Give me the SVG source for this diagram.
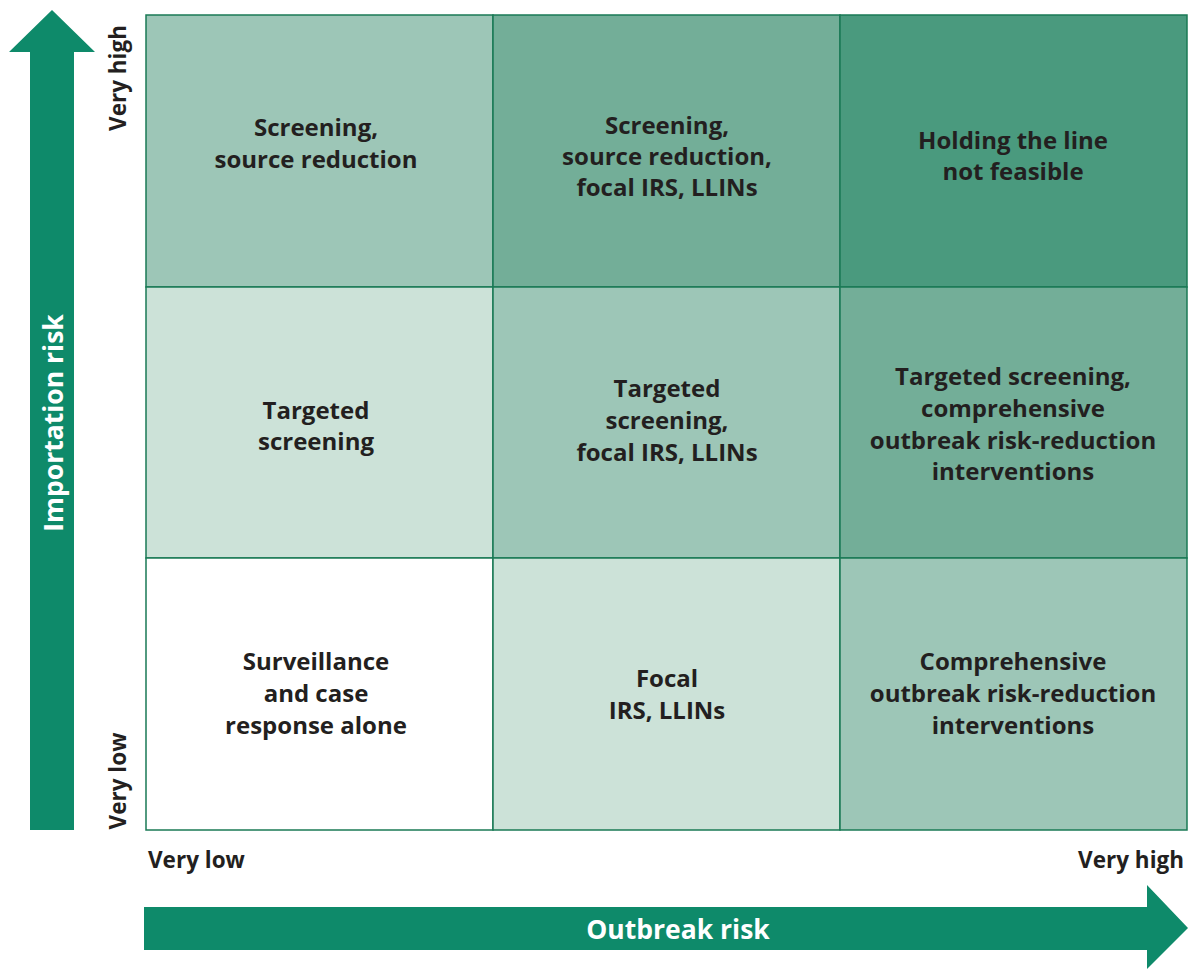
<svg xmlns="http://www.w3.org/2000/svg" width="1188" height="969" viewBox="0 0 1188 969">
<style>
.c1{fill:#ffffff}
.c2{fill:#cce2d8}
.c3{fill:#9dc6b7}
.c4{fill:#73ae98}
.c5{fill:#4a9a7e}
.cell{stroke:#1a7a55;stroke-width:1.5}
.t{font-family:"Open Sans","Noto Sans","Liberation Sans",sans-serif;font-weight:700;font-size:24px;fill:#231f20;text-anchor:middle}
.ax{font-family:"Open Sans","Noto Sans","Liberation Sans",sans-serif;font-weight:700;font-size:22.5px;fill:#231f20}
.arr{fill:#0e8a6a}
.w{font-family:"Open Sans","Noto Sans","Liberation Sans",sans-serif;font-weight:700;font-size:26.5px;fill:#ffffff;text-anchor:middle}
</style>
<rect width="1188" height="969" fill="#ffffff"/>
<g id="connectors">
<polygon id="y-arrow" class="arr" points="30,830 74,830 74,52 95,52 52,10 9,52 30,52"/>
<polygon id="x-arrow" class="arr" points="144,907 1147,907 1147,885 1188,928 1147,969 1147,950 144,950"/>
</g>
<g id="axis-labels">
<text class="w" transform="translate(63,423) rotate(-90)">Importation risk</text>
<text class="w" x="678" y="939">Outbreak risk</text>
<text class="ax" text-anchor="middle" transform="translate(126,78) rotate(-90)">Very high</text>
<text class="ax" text-anchor="middle" transform="translate(126,781) rotate(-90)">Very low</text>
<text class="ax" x="148" y="868">Very low</text>
<text class="ax" x="1184" y="868" text-anchor="end">Very high</text>
</g>
<g id="cell-r1c1"><rect class="cell c3" x="146" y="15" width="347" height="272"/>
<text class="t"><tspan x="316" y="136">Screening,</tspan><tspan x="316" y="168">source reduction</tspan></text></g>
<g id="cell-r1c2"><rect class="cell c4" x="493" y="15" width="347" height="272"/>
<text class="t"><tspan x="667" y="134">Screening,</tspan><tspan x="667" y="165">source reduction,</tspan><tspan x="667" y="196">focal IRS, LLINs</tspan></text></g>
<g id="cell-r1c3"><rect class="cell c5" x="840" y="15" width="347" height="272"/>
<text class="t"><tspan x="1013" y="149">Holding the line</tspan><tspan x="1013" y="180">not feasible</tspan></text></g>
<g id="cell-r2c1"><rect class="cell c2" x="146" y="287" width="347" height="271"/>
<text class="t"><tspan x="316" y="419">Targeted</tspan><tspan x="316" y="450">screening</tspan></text></g>
<g id="cell-r2c2"><rect class="cell c3" x="493" y="287" width="347" height="271"/>
<text class="t"><tspan x="667" y="397">Targeted</tspan><tspan x="667" y="429">screening,</tspan><tspan x="667" y="461">focal IRS, LLINs</tspan></text></g>
<g id="cell-r2c3"><rect class="cell c4" x="840" y="287" width="347" height="271"/>
<text class="t"><tspan x="1013" y="385">Targeted screening,</tspan><tspan x="1013" y="417">comprehensive</tspan><tspan x="1013" y="449">outbreak risk-reduction</tspan><tspan x="1013" y="480">interventions</tspan></text></g>
<g id="cell-r3c1"><rect class="cell c1" x="146" y="558" width="347" height="272"/>
<text class="t"><tspan x="316" y="670">Surveillance</tspan><tspan x="316" y="702">and case</tspan><tspan x="316" y="734">response alone</tspan></text></g>
<g id="cell-r3c2"><rect class="cell c2" x="493" y="558" width="347" height="272"/>
<text class="t"><tspan x="667" y="687">Focal</tspan><tspan x="667" y="719">IRS, LLINs</tspan></text></g>
<g id="cell-r3c3"><rect class="cell c3" x="840" y="558" width="347" height="272"/>
<text class="t"><tspan x="1013" y="670">Comprehensive</tspan><tspan x="1013" y="702">outbreak risk-reduction</tspan><tspan x="1013" y="734">interventions</tspan></text></g>
</svg>
